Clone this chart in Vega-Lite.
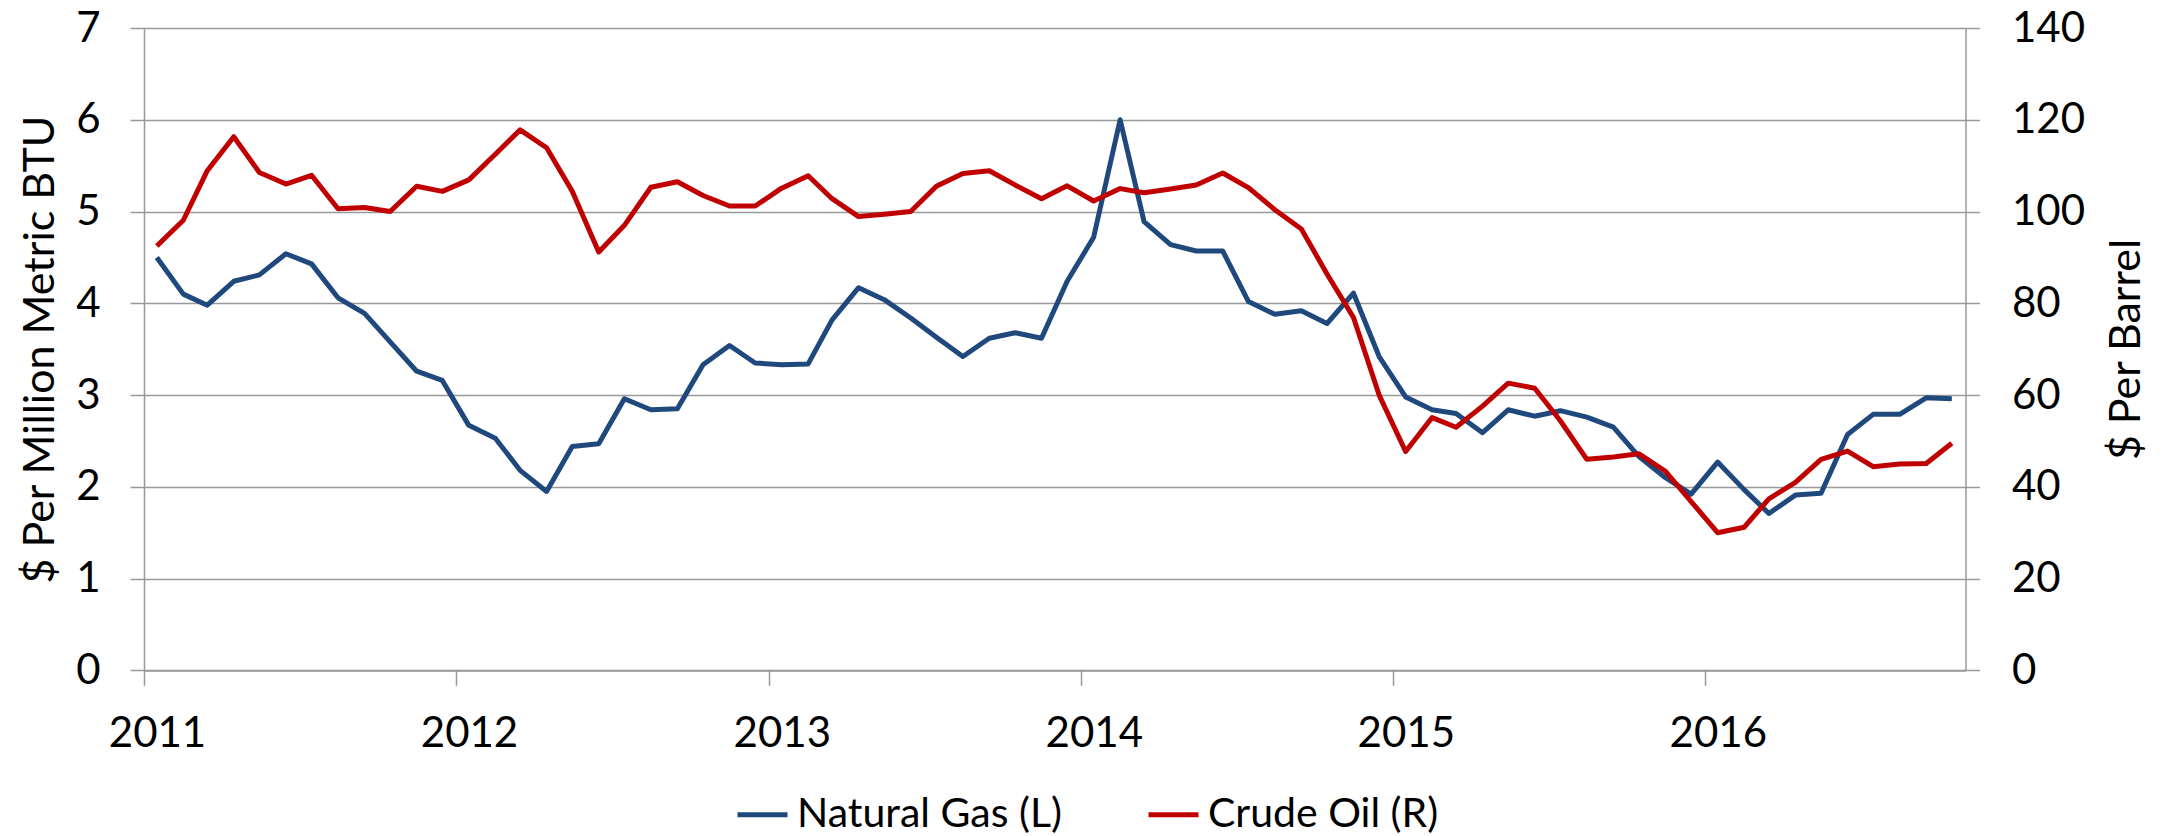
{
  "$schema": "https://vega.github.io/schema/vega-lite/v6.json",
  "width": 1821.5,
  "height": 642.4,
  "autosize": {"type": "none"},
  "padding": {"left": 144, "top": 28, "right": 201.5, "bottom": 165.6},
  "background": "#ffffff",
  "config": {
    "view": {"stroke": null},
    "font": "Lato",
    "axis": {"labelFont": "Lato", "titleFont": "Lato", "labelColor": "#000000", "titleColor": "#000000", "titleFontWeight": "normal", "domainColor": "#999999", "tickColor": "#999999", "gridColor": "#999999", "domainWidth": 1.5, "tickWidth": 1.5, "gridWidth": 1.5, "gridOpacity": 1}
  },
  "data": {"values": [
    {"date": "2011-01-16", "series": "Natural Gas (L)", "value": 4.50},
    {"date": "2011-02-16", "series": "Natural Gas (L)", "value": 4.10},
    {"date": "2011-03-16", "series": "Natural Gas (L)", "value": 3.98},
    {"date": "2011-04-16", "series": "Natural Gas (L)", "value": 4.24},
    {"date": "2011-05-16", "series": "Natural Gas (L)", "value": 4.31},
    {"date": "2011-06-16", "series": "Natural Gas (L)", "value": 4.54},
    {"date": "2011-07-16", "series": "Natural Gas (L)", "value": 4.43},
    {"date": "2011-08-16", "series": "Natural Gas (L)", "value": 4.06},
    {"date": "2011-09-16", "series": "Natural Gas (L)", "value": 3.89},
    {"date": "2011-10-16", "series": "Natural Gas (L)", "value": 3.58},
    {"date": "2011-11-16", "series": "Natural Gas (L)", "value": 3.26},
    {"date": "2011-12-16", "series": "Natural Gas (L)", "value": 3.16},
    {"date": "2012-01-16", "series": "Natural Gas (L)", "value": 2.67},
    {"date": "2012-02-16", "series": "Natural Gas (L)", "value": 2.53},
    {"date": "2012-03-16", "series": "Natural Gas (L)", "value": 2.18},
    {"date": "2012-04-16", "series": "Natural Gas (L)", "value": 1.95},
    {"date": "2012-05-16", "series": "Natural Gas (L)", "value": 2.44},
    {"date": "2012-06-16", "series": "Natural Gas (L)", "value": 2.47},
    {"date": "2012-07-16", "series": "Natural Gas (L)", "value": 2.96},
    {"date": "2012-08-16", "series": "Natural Gas (L)", "value": 2.84},
    {"date": "2012-09-16", "series": "Natural Gas (L)", "value": 2.85},
    {"date": "2012-10-16", "series": "Natural Gas (L)", "value": 3.33},
    {"date": "2012-11-16", "series": "Natural Gas (L)", "value": 3.54},
    {"date": "2012-12-16", "series": "Natural Gas (L)", "value": 3.35},
    {"date": "2013-01-16", "series": "Natural Gas (L)", "value": 3.33},
    {"date": "2013-02-16", "series": "Natural Gas (L)", "value": 3.34},
    {"date": "2013-03-16", "series": "Natural Gas (L)", "value": 3.82},
    {"date": "2013-04-16", "series": "Natural Gas (L)", "value": 4.17},
    {"date": "2013-05-16", "series": "Natural Gas (L)", "value": 4.04},
    {"date": "2013-06-16", "series": "Natural Gas (L)", "value": 3.84},
    {"date": "2013-07-16", "series": "Natural Gas (L)", "value": 3.63},
    {"date": "2013-08-16", "series": "Natural Gas (L)", "value": 3.42},
    {"date": "2013-09-16", "series": "Natural Gas (L)", "value": 3.62},
    {"date": "2013-10-16", "series": "Natural Gas (L)", "value": 3.68},
    {"date": "2013-11-16", "series": "Natural Gas (L)", "value": 3.62},
    {"date": "2013-12-16", "series": "Natural Gas (L)", "value": 4.24},
    {"date": "2014-01-16", "series": "Natural Gas (L)", "value": 4.72},
    {"date": "2014-02-16", "series": "Natural Gas (L)", "value": 6.00},
    {"date": "2014-03-16", "series": "Natural Gas (L)", "value": 4.89},
    {"date": "2014-04-16", "series": "Natural Gas (L)", "value": 4.64},
    {"date": "2014-05-16", "series": "Natural Gas (L)", "value": 4.57},
    {"date": "2014-06-16", "series": "Natural Gas (L)", "value": 4.57},
    {"date": "2014-07-16", "series": "Natural Gas (L)", "value": 4.02},
    {"date": "2014-08-16", "series": "Natural Gas (L)", "value": 3.88},
    {"date": "2014-09-16", "series": "Natural Gas (L)", "value": 3.92},
    {"date": "2014-10-16", "series": "Natural Gas (L)", "value": 3.78},
    {"date": "2014-11-16", "series": "Natural Gas (L)", "value": 4.11},
    {"date": "2014-12-16", "series": "Natural Gas (L)", "value": 3.42},
    {"date": "2015-01-16", "series": "Natural Gas (L)", "value": 2.98},
    {"date": "2015-02-16", "series": "Natural Gas (L)", "value": 2.84},
    {"date": "2015-03-16", "series": "Natural Gas (L)", "value": 2.80},
    {"date": "2015-04-16", "series": "Natural Gas (L)", "value": 2.59},
    {"date": "2015-05-16", "series": "Natural Gas (L)", "value": 2.84},
    {"date": "2015-06-16", "series": "Natural Gas (L)", "value": 2.77},
    {"date": "2015-07-16", "series": "Natural Gas (L)", "value": 2.83},
    {"date": "2015-08-16", "series": "Natural Gas (L)", "value": 2.76},
    {"date": "2015-09-16", "series": "Natural Gas (L)", "value": 2.65},
    {"date": "2015-10-16", "series": "Natural Gas (L)", "value": 2.33},
    {"date": "2015-11-16", "series": "Natural Gas (L)", "value": 2.10},
    {"date": "2015-12-16", "series": "Natural Gas (L)", "value": 1.92},
    {"date": "2016-01-16", "series": "Natural Gas (L)", "value": 2.27},
    {"date": "2016-02-16", "series": "Natural Gas (L)", "value": 1.97},
    {"date": "2016-03-16", "series": "Natural Gas (L)", "value": 1.71},
    {"date": "2016-04-16", "series": "Natural Gas (L)", "value": 1.91},
    {"date": "2016-05-16", "series": "Natural Gas (L)", "value": 1.93},
    {"date": "2016-06-16", "series": "Natural Gas (L)", "value": 2.57},
    {"date": "2016-07-16", "series": "Natural Gas (L)", "value": 2.79},
    {"date": "2016-08-16", "series": "Natural Gas (L)", "value": 2.79},
    {"date": "2016-09-16", "series": "Natural Gas (L)", "value": 2.97},
    {"date": "2016-10-16", "series": "Natural Gas (L)", "value": 2.96},
    {"date": "2011-01-16", "series": "Crude Oil (R)", "value": 92.5},
    {"date": "2011-02-16", "series": "Crude Oil (R)", "value": 98.1},
    {"date": "2011-03-16", "series": "Crude Oil (R)", "value": 108.9},
    {"date": "2011-04-16", "series": "Crude Oil (R)", "value": 116.3},
    {"date": "2011-05-16", "series": "Crude Oil (R)", "value": 108.5},
    {"date": "2011-06-16", "series": "Crude Oil (R)", "value": 106.0},
    {"date": "2011-07-16", "series": "Crude Oil (R)", "value": 107.9},
    {"date": "2011-08-16", "series": "Crude Oil (R)", "value": 100.6},
    {"date": "2011-09-16", "series": "Crude Oil (R)", "value": 100.9},
    {"date": "2011-10-16", "series": "Crude Oil (R)", "value": 100.0},
    {"date": "2011-11-16", "series": "Crude Oil (R)", "value": 105.5},
    {"date": "2011-12-16", "series": "Crude Oil (R)", "value": 104.4},
    {"date": "2012-01-16", "series": "Crude Oil (R)", "value": 106.9},
    {"date": "2012-02-16", "series": "Crude Oil (R)", "value": 112.5},
    {"date": "2012-03-16", "series": "Crude Oil (R)", "value": 117.8},
    {"date": "2012-04-16", "series": "Crude Oil (R)", "value": 113.9},
    {"date": "2012-05-16", "series": "Crude Oil (R)", "value": 104.4},
    {"date": "2012-06-16", "series": "Crude Oil (R)", "value": 91.2},
    {"date": "2012-07-16", "series": "Crude Oil (R)", "value": 97.0},
    {"date": "2012-08-16", "series": "Crude Oil (R)", "value": 105.3},
    {"date": "2012-09-16", "series": "Crude Oil (R)", "value": 106.5},
    {"date": "2012-10-16", "series": "Crude Oil (R)", "value": 103.5},
    {"date": "2012-11-16", "series": "Crude Oil (R)", "value": 101.2},
    {"date": "2012-12-16", "series": "Crude Oil (R)", "value": 101.2},
    {"date": "2013-01-16", "series": "Crude Oil (R)", "value": 105.1},
    {"date": "2013-02-16", "series": "Crude Oil (R)", "value": 107.8},
    {"date": "2013-03-16", "series": "Crude Oil (R)", "value": 102.8},
    {"date": "2013-04-16", "series": "Crude Oil (R)", "value": 98.9},
    {"date": "2013-05-16", "series": "Crude Oil (R)", "value": 99.4},
    {"date": "2013-06-16", "series": "Crude Oil (R)", "value": 100.0},
    {"date": "2013-07-16", "series": "Crude Oil (R)", "value": 105.5},
    {"date": "2013-08-16", "series": "Crude Oil (R)", "value": 108.3},
    {"date": "2013-09-16", "series": "Crude Oil (R)", "value": 108.9},
    {"date": "2013-10-16", "series": "Crude Oil (R)", "value": 105.8},
    {"date": "2013-11-16", "series": "Crude Oil (R)", "value": 102.8},
    {"date": "2013-12-16", "series": "Crude Oil (R)", "value": 105.6},
    {"date": "2014-01-16", "series": "Crude Oil (R)", "value": 102.3},
    {"date": "2014-02-16", "series": "Crude Oil (R)", "value": 105.0},
    {"date": "2014-03-16", "series": "Crude Oil (R)", "value": 104.1},
    {"date": "2014-04-16", "series": "Crude Oil (R)", "value": 104.9},
    {"date": "2014-05-16", "series": "Crude Oil (R)", "value": 105.8},
    {"date": "2014-06-16", "series": "Crude Oil (R)", "value": 108.4},
    {"date": "2014-07-16", "series": "Crude Oil (R)", "value": 105.2},
    {"date": "2014-08-16", "series": "Crude Oil (R)", "value": 100.4},
    {"date": "2014-09-16", "series": "Crude Oil (R)", "value": 96.2},
    {"date": "2014-10-16", "series": "Crude Oil (R)", "value": 86.4},
    {"date": "2014-11-16", "series": "Crude Oil (R)", "value": 76.9},
    {"date": "2014-12-16", "series": "Crude Oil (R)", "value": 60.0},
    {"date": "2015-01-16", "series": "Crude Oil (R)", "value": 47.7},
    {"date": "2015-02-16", "series": "Crude Oil (R)", "value": 55.1},
    {"date": "2015-03-16", "series": "Crude Oil (R)", "value": 53.0},
    {"date": "2015-04-16", "series": "Crude Oil (R)", "value": 57.6},
    {"date": "2015-05-16", "series": "Crude Oil (R)", "value": 62.6},
    {"date": "2015-06-16", "series": "Crude Oil (R)", "value": 61.5},
    {"date": "2015-07-16", "series": "Crude Oil (R)", "value": 54.4},
    {"date": "2015-08-16", "series": "Crude Oil (R)", "value": 46.0},
    {"date": "2015-09-16", "series": "Crude Oil (R)", "value": 46.5},
    {"date": "2015-10-16", "series": "Crude Oil (R)", "value": 47.2},
    {"date": "2015-11-16", "series": "Crude Oil (R)", "value": 43.4},
    {"date": "2015-12-16", "series": "Crude Oil (R)", "value": 36.8},
    {"date": "2016-01-16", "series": "Crude Oil (R)", "value": 30.0},
    {"date": "2016-02-16", "series": "Crude Oil (R)", "value": 31.2},
    {"date": "2016-03-16", "series": "Crude Oil (R)", "value": 37.4},
    {"date": "2016-04-16", "series": "Crude Oil (R)", "value": 41.0},
    {"date": "2016-05-16", "series": "Crude Oil (R)", "value": 46.0},
    {"date": "2016-06-16", "series": "Crude Oil (R)", "value": 47.8},
    {"date": "2016-07-16", "series": "Crude Oil (R)", "value": 44.4},
    {"date": "2016-08-16", "series": "Crude Oil (R)", "value": 45.0},
    {"date": "2016-09-16", "series": "Crude Oil (R)", "value": 45.1},
    {"date": "2016-10-16", "series": "Crude Oil (R)", "value": 49.5}
  ]},
  "encoding": {
    "x": {
      "field": "date", "type": "temporal",
      "scale": {"type": "utc", "domain": [{"year": 2011, "month": 1, "date": 1, "utc": true}, {"year": 2016, "month": 11, "date": 1, "utc": true}]},
      "axis": {
        "title": null, "orient": "bottom", "grid": false,
        "values": [
          {"year": 2011, "month": 1, "date": 1, "utc": true},
          {"year": 2012, "month": 1, "date": 1, "utc": true},
          {"year": 2013, "month": 1, "date": 1, "utc": true},
          {"year": 2014, "month": 1, "date": 1, "utc": true},
          {"year": 2015, "month": 1, "date": 1, "utc": true},
          {"year": 2016, "month": 1, "date": 1, "utc": true}
        ],
        "format": "%Y", "formatType": "utc",
        "labelFontSize": 42, "labelOffset": 13, "labelPadding": 28, "tickSize": 15,
        "labelFlush": false, "labelOverlap": false
      }
    },
    "color": {
      "field": "series", "type": "nominal",
      "scale": {"domain": ["Natural Gas (L)", "Crude Oil (R)"], "range": ["#1f497d", "#c00000"]},
      "legend": {
        "title": null, "orient": "none", "direction": "horizontal",
        "legendX": 591, "legendY": 759, "padding": 0,
        "symbolType": "stroke", "symbolSize": 2500, "symbolStrokeWidth": 5,
        "labelFont": "Lato", "labelFontSize": 41, "labelColor": "#000000",
        "labelOffset": 7, "columnPadding": 76, "labelLimit": 600
      }
    }
  },
  "layer": [
    {
      "transform": [{"filter": "datum.series === 'Natural Gas (L)'"}],
      "mark": {"type": "line", "strokeWidth": 5, "strokeJoin": "round"},
      "encoding": {
        "y": {
          "field": "value", "type": "quantitative",
          "scale": {"domain": [0, 7], "nice": false, "zero": true},
          "axis": {
            "orient": "left", "title": "$ Per Million Metric BTU",
            "values": [0, 1, 2, 3, 4, 5, 6, 7], "grid": true,
            "labelFontSize": 42, "labelPadding": 30, "tickSize": 14,
            "titleFontSize": 43, "titleAngle": -90, "titleX": -91, "titleY": 321,
            "titleAlign": "center", "titleBaseline": "alphabetic",
            "labelFlush": false
          }
        }
      }
    },
    {
      "transform": [{"filter": "datum.series === 'Crude Oil (R)'"}],
      "mark": {"type": "line", "strokeWidth": 5, "strokeJoin": "round"},
      "encoding": {
        "y": {
          "field": "value", "type": "quantitative",
          "scale": {"domain": [0, 140], "nice": false, "zero": true},
          "axis": {
            "orient": "right", "title": "$ Per Barrel",
            "values": [0, 20, 40, 60, 80, 100, 120, 140], "grid": false,
            "labelFontSize": 42, "labelPadding": 32, "tickSize": 14,
            "titleFontSize": 43, "titleAngle": -90, "titleX": 174, "titleY": 321,
            "titleAlign": "center", "titleBaseline": "alphabetic",
            "labelFlush": false
          }
        }
      }
    }
  ],
  "resolve": {"scale": {"y": "independent"}}
}
